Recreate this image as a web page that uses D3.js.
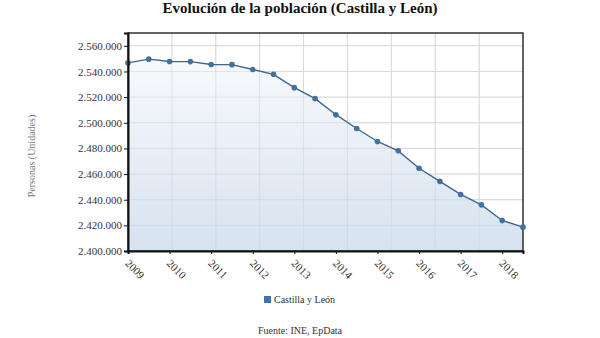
<!DOCTYPE html>
<html>
<head>
<meta charset="utf-8">
<script src="https://cdnjs.cloudflare.com/ajax/libs/d3/7.8.5/d3.min.js"></script>
<style>
  html, body { margin: 0; padding: 0; background: #fff; }
  svg { display: block; font-family: "Liberation Serif", "Times New Roman", serif; }
</style>
</head>
<body>
<svg id="chart" width="600" height="338"></svg>
<script>
// Semiannual population counts, Castilla y León, 2009–2018
const periods = [
  "2009-01", "2009-07", "2010-01", "2010-07", "2011-01", "2011-07",
  "2012-01", "2012-07", "2013-01", "2013-07", "2014-01", "2014-07",
  "2015-01", "2015-07", "2016-01", "2016-07", "2017-01", "2017-07",
  "2018-01", "2018-07"
];
const population = [
  2546700, 2549600, 2547800, 2547700, 2545400, 2545300,
  2541500, 2537800, 2527400, 2518800, 2506300, 2495500,
  2485400, 2478100, 2464500, 2454300, 2444100, 2436000,
  2423800, 2418600
];
const yearTicks = ["2009", "2010", "2011", "2012", "2013", "2014", "2015", "2016", "2017", "2018"];
const yTicks = [2400000, 2420000, 2440000, 2460000, 2480000, 2500000, 2520000, 2540000, 2560000];

const title = "Evolución de la población (Castilla y León)";
const seriesName = "Castilla y León";
const yLabel = "Personas (Unidades)";
const source = "Fuente: INE, EpData";

const serif = "'Liberation Serif', 'Times New Roman', serif";
const svg = d3.select("#chart");
const m = { left: 128, right: 523, top: 33, bottom: 251 };

const x = d3.scalePoint().domain(periods).range([m.left, m.right]);
const y = d3.scaleLinear().domain([2400000, 2570000]).range([m.bottom, m.top]);

const fmt = v => d3.format(",")(v).replace(/,/g, ".");

const defs = svg.append("defs");
const grad = defs.append("linearGradient")
  .attr("id", "areaFill").attr("x1", 0).attr("y1", 0).attr("x2", 0).attr("y2", 1);
grad.append("stop").attr("offset", "0%").attr("stop-color", "#f7f9fc");
grad.append("stop").attr("offset", "100%").attr("stop-color", "#d4e1ee");

// Horizontal grid
svg.append("g").selectAll("line").data(yTicks).join("line")
  .attr("x1", m.left).attr("x2", m.right)
  .attr("y1", d => y(d)).attr("y2", d => y(d))
  .attr("stroke", "#e2e2e2").attr("stroke-width", 1);

// Vertical grid: plot split into nine equal columns
const vGrid = d3.range(1, 9).map(i => m.left + i * (m.right - m.left) / 9);
svg.append("g").selectAll("line").data(vGrid).join("line")
  .attr("x1", d => d).attr("x2", d => d)
  .attr("y1", m.top).attr("y2", m.bottom)
  .attr("stroke", "#e2e2e2").attr("stroke-width", 1);

// Area under the line
const area = d3.area()
  .x((d, i) => x(periods[i]))
  .y0(y(2400000))
  .y1(d => y(d));
svg.append("path").datum(population)
  .attr("d", area).attr("fill", "url(#areaFill)").attr("opacity", 0.95);

// Redraw grid lightly over the fill
svg.append("g").selectAll("line").data(yTicks).join("line")
  .attr("x1", m.left).attr("x2", m.right)
  .attr("y1", d => y(d)).attr("y2", d => y(d))
  .attr("stroke", "#c9d3de").attr("stroke-opacity", 0.5);
svg.append("g").selectAll("line").data(vGrid).join("line")
  .attr("x1", d => d).attr("x2", d => d)
  .attr("y1", m.top).attr("y2", m.bottom)
  .attr("stroke", "#c9d3de").attr("stroke-opacity", 0.5);

// Plot frame
svg.append("rect")
  .attr("x", m.left).attr("y", m.top)
  .attr("width", m.right - m.left).attr("height", m.bottom - m.top)
  .attr("fill", "none").attr("stroke", "#111").attr("stroke-width", 1.3);

// Line and markers
const line = d3.line().x((d, i) => x(periods[i])).y(d => y(d));
svg.append("path").datum(population)
  .attr("d", line).attr("fill", "none")
  .attr("stroke", "#3e6690").attr("stroke-width", 1.4);
svg.append("g").selectAll("circle").data(population).join("circle")
  .attr("cx", (d, i) => x(periods[i])).attr("cy", d => y(d))
  .attr("r", 2.8).attr("fill", "#44709c");

// Y axis
const yAxis = d3.axisLeft(y).tickValues(yTicks).tickFormat(fmt).tickSize(4).tickPadding(2);
const gy = svg.append("g").attr("transform", `translate(${m.left},0)`).call(yAxis)
  .attr("font-family", serif);
gy.select(".domain").attr("stroke", "#111").attr("stroke-width", 2);
gy.selectAll(".tick line").attr("stroke", "#111");
gy.selectAll("text").attr("font-size", 11).attr("fill", "#333");

// X axis: one labelled tick per January
const xAxis = d3.axisBottom(x)
  .tickValues(yearTicks.map(yr => yr + "-01"))
  .tickFormat(d => d.slice(0, 4)).tickSize(3).tickPadding(2);
const gx = svg.append("g").attr("transform", `translate(0,${m.bottom})`).call(xAxis)
  .attr("font-family", serif);
gx.select(".domain").attr("stroke", "#111").attr("stroke-width", 2);
gx.selectAll(".tick line").attr("stroke", "#111");
gx.selectAll("text")
  .attr("font-size", 11).attr("fill", "#333")
  .attr("text-anchor", "start")
  .attr("transform", "translate(1,8) rotate(45)")
  .attr("dy", "0.2em");

// Title
svg.append("text")
  .attr("x", 300).attr("y", 13)
  .attr("text-anchor", "middle")
  .attr("font-size", 15).attr("font-weight", "bold").attr("fill", "#111")
  .text(title);

// Y axis title
svg.append("text")
  .attr("transform", `translate(35,${(m.top + m.bottom) / 2 + 14}) rotate(-90)`)
  .attr("text-anchor", "middle")
  .attr("font-size", 10).attr("fill", "#777")
  .text(yLabel);

// Legend
const lg = svg.append("g").attr("transform", "translate(264,296)");
lg.append("rect").attr("width", 7).attr("height", 7).attr("fill", "#3f74a8");
lg.append("text").attr("x", 10).attr("y", 7)
  .attr("font-size", 10).attr("fill", "#333").text(seriesName);

// Source
svg.append("text")
  .attr("x", 300).attr("y", 334)
  .attr("text-anchor", "middle")
  .attr("font-size", 10).attr("fill", "#333")
  .text(source);
</script>
</body>
</html>
